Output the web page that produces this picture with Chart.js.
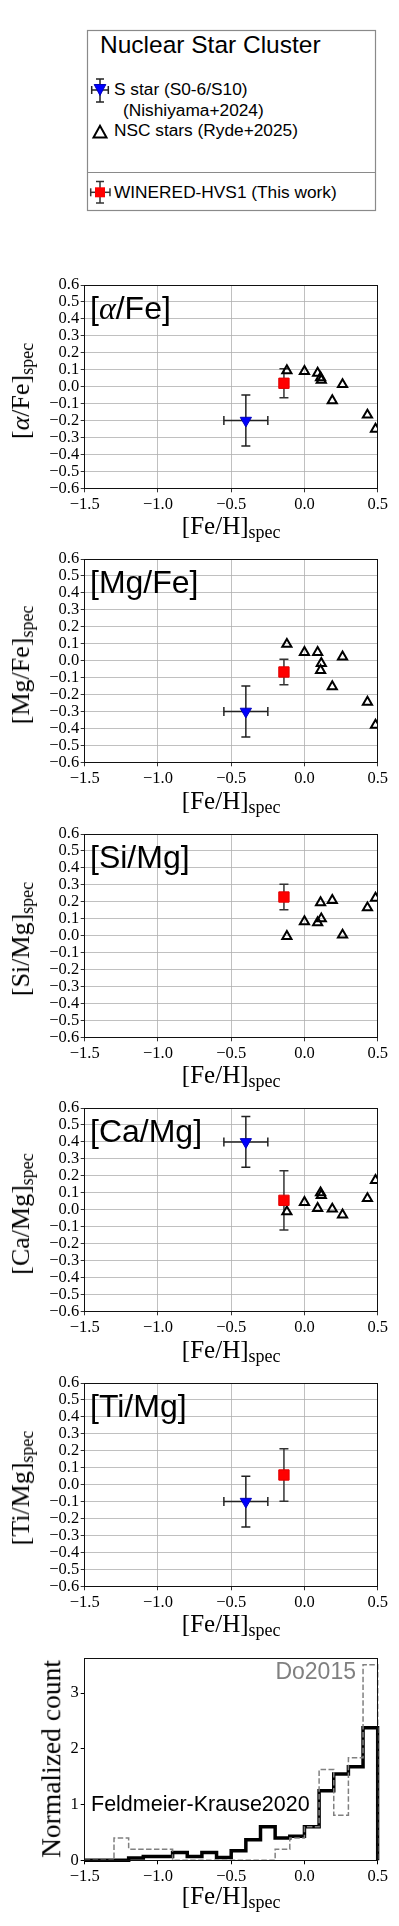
<!DOCTYPE html>
<html><head><meta charset="utf-8">
<script src="https://cdn.jsdelivr.net/npm/chart.js@4.4.0/dist/chart.umd.min.js"></script>
<style>
html,body{margin:0;padding:0;background:#fff;}
body{position:relative;width:399px;height:1926px;overflow:hidden;}
.abs{position:absolute;white-space:nowrap;color:#000;}
.sans{font-family:'Liberation Sans',Arial,sans-serif;}
.serif{font-family:'Liberation Serif','Times New Roman',serif;}
canvas{position:absolute;left:0;}
.sub{font-size:18px;vertical-align:-4px;line-height:0;}
.mi{font-family:'Liberation Serif',serif;font-style:italic;}
</style></head><body>

<svg class="abs" style="left:0;top:0" width="399" height="220">
  <rect x="87.5" y="30.5" width="288" height="180" fill="none" stroke="#8a8a8a" stroke-width="1.2"/>
  <line x1="87.5" y1="172.5" x2="375.5" y2="172.5" stroke="#8a8a8a" stroke-width="1.2"/>
  <g stroke="#222" stroke-width="1.5">
    <line x1="100" y1="79" x2="100" y2="102"/><line x1="96" y1="79" x2="104" y2="79"/><line x1="96" y1="102" x2="104" y2="102"/>
    <line x1="91.7" y1="90" x2="108.3" y2="90"/><line x1="91.7" y1="86" x2="91.7" y2="94"/><line x1="108.3" y1="86" x2="108.3" y2="94"/>
  </g>
  <polygon points="94.2,84.5 105.8,84.5 100,95.5" fill="#0000ff" stroke="#0000bb" stroke-width="1"/>
  <polygon points="93.5,137.5 106.5,137.5 100,125.8" fill="none" stroke="#000" stroke-width="2"/>
  <g stroke="#333" stroke-width="1.5">
    <line x1="100" y1="181.5" x2="100" y2="203"/><line x1="96" y1="181.5" x2="104" y2="181.5"/><line x1="96" y1="203" x2="104" y2="203"/>
    <line x1="90.7" y1="192.3" x2="110" y2="192.3"/><line x1="90.7" y1="188.3" x2="90.7" y2="196.3"/><line x1="110" y1="188.3" x2="110" y2="196.3"/>
  </g>
  <rect x="95" y="187.3" width="10" height="10" fill="#ff0000"/>
</svg>
<div class="abs sans" style="left:100px;top:33px;font-size:24.5px;line-height:24.5px;">Nuclear Star Cluster</div>
<div class="abs sans" style="left:114px;top:81.3px;font-size:17.3px;line-height:17.3px;">S star (S0-6/S10)</div>
<div class="abs sans" style="left:123px;top:102px;font-size:17.3px;line-height:17.3px;">(Nishiyama+2024)</div>
<div class="abs sans" style="left:114px;top:122px;font-size:17.3px;line-height:17.3px;">NSC stars (Ryde+2025)</div>
<div class="abs sans" style="left:114px;top:184.3px;font-size:17.3px;line-height:17.3px;">WINERED-HVS1 (This work)</div>

<script>
// ---------------- data ----------------
const panelNames = ['[α/Fe]', '[Mg/Fe]', '[Si/Mg]', '[Ca/Mg]', '[Ti/Mg]'];

// NSC stars (Ryde+2025): shared [Fe/H]
const nscFeH     = [-0.12, 0.00, 0.09, 0.11, 0.115, 0.19, 0.26, 0.43, 0.485];
const nscAlphaFe = [0.095, 0.090, 0.080, 0.054, 0.038, -0.082, 0.013, -0.167, -0.250];
const nscMgFe    = [0.097, 0.049, 0.049, -0.057, -0.016, -0.153, 0.022, -0.244, -0.380];
const nscSiMg    = [-0.004, 0.083, 0.077, 0.195, 0.100, 0.208, 0.004, 0.165, 0.222];
const nscCaMg    = [-0.012, 0.043, 0.008, 0.100, 0.085, 0.004, -0.031, 0.066, 0.173];
const nscTiMg    = null;

// S star (S0-6/S10) (Nishiyama+2024)
const sstarFeH    = -0.40;
const sstarFeHErr = 0.15;
const sstarVals   = [-0.20, -0.30, null, 0.40, -0.10];
const sstarErrs   = [0.15, 0.15, null, 0.15, 0.15];

// WINERED-HVS1 (This work)
const hvsFeH  = -0.14;
const hvsVals = [0.020, -0.067, 0.228, 0.055, 0.057];
const hvsErrs = [0.085, 0.075, 0.075, 0.175, 0.155];

// tick steps
const fehTickStep = 0.5;
const abundTickStep = 0.1;

// histogram: bin left edges, right edge, normalized counts
const histBinLeft = [-1.5, -1.4, -1.3, -1.2, -1.1, -1.0, -0.9, -0.8, -0.7, -0.6,
                     -0.5, -0.4, -0.3, -0.2, -0.1, 0.0, 0.1, 0.2, 0.3, 0.4];
const histRightEdge = 0.5;
const feldmeierCounts = [0, 0, 0, 0.04, 0.07, 0.07, 0.14, 0.07, 0.14, 0.05,
                         0.17, 0.37, 0.60, 0.40, 0.43, 0.60, 1.25, 1.55, 1.68, 2.38];
const do2015Counts    = [0, 0, 0.40, 0.20, 0.20, 0.20, 0, 0, 0, 0,
                         0, 0, 0, 0.20, 0.40, 0.60, 1.63, 0.81, 1.84, 3.51];

// ---------------- layout ----------------
const nscSets = [nscAlphaFe, nscMgFe, nscSiMg, nscCaMg, nscTiMg];
const chartTops = [285, 559.3, 833.6, 1108.3, 1382.6];
const panelH = 203.3;
const histTop = 1657.7, histH = 202.3;
const canvasH = 274;
const padTop = 20, yAxisW = 84.7, padRight = 21.3;
const chartLeft = yAxisW, chartRight = 399 - padRight;
const chartCX = (chartLeft + chartRight) / 2;
const tickFont = 16.5;

Chart.defaults.font.family = "'Liberation Serif', serif";
Chart.defaults.color = '#000';

function fmt1(v) {
  if (Math.abs(v) < 1e-9) v = 0;
  return v.toFixed(1).replace('-', '\u2212');
}
function alignPx(p) { return Math.round(p - 0.5) + 0.5; }

const framePlugin = {
  id: 'frame',
  afterDraw(chart) {
    const a = chart.chartArea, ctx = chart.ctx;
    ctx.save();
    ctx.strokeStyle = '#111';
    ctx.lineWidth = 1;
    const l = alignPx(a.left), r = alignPx(a.right), t = alignPx(a.top), b = alignPx(a.bottom);
    ctx.strokeRect(l, t, r - l, b - t);
    ctx.restore();
  }
};

const errorBarPlugin = {
  id: 'errbars',
  beforeDatasetsDraw(chart) {
    const ctx = chart.ctx, xs = chart.scales.x, ys = chart.scales.y, a = chart.chartArea;
    ctx.save();
    ctx.beginPath(); ctx.rect(a.left, a.top, a.right - a.left, a.bottom - a.top); ctx.clip();
    chart.data.datasets.forEach(ds => {
      if (!ds.errY && !ds.errX) return;
      ctx.strokeStyle = ds.errColor || '#222';
      ctx.lineWidth = 1.5;
      ds.data.forEach((p, j) => {
        const x = xs.getPixelForValue(p.x), y = ys.getPixelForValue(p.y);
        const cap = 4.5;
        ctx.beginPath();
        if (ds.errY) {
          const y1 = ys.getPixelForValue(p.y + ds.errY[j]), y2 = ys.getPixelForValue(p.y - ds.errY[j]);
          ctx.moveTo(x, y1); ctx.lineTo(x, y2);
          ctx.moveTo(x - cap, y1); ctx.lineTo(x + cap, y1);
          ctx.moveTo(x - cap, y2); ctx.lineTo(x + cap, y2);
        }
        if (ds.errX) {
          const x1 = xs.getPixelForValue(p.x - ds.errX[j]), x2 = xs.getPixelForValue(p.x + ds.errX[j]);
          ctx.moveTo(x1, y); ctx.lineTo(x2, y);
          ctx.moveTo(x1, y - cap); ctx.lineTo(x1, y + cap);
          ctx.moveTo(x2, y - cap); ctx.lineTo(x2, y + cap);
        }
        ctx.stroke();
      });
    });
    ctx.restore();
  }
};

function xScale(xAxisH) {
  return {
    type: 'linear', min: -1.5, max: 0.5,
    afterFit: s => { s.height = xAxisH; },
    ticks: { stepSize: fehTickStep, font: { size: tickFont }, color: '#000', padding: 2,
             maxRotation: 0, autoSkip: false, includeBounds: false, callback: v => fmt1(v) },
    grid: { color: '#b0b0b0', lineWidth: 0.8, tickColor: '#000', tickLength: 4 },
    border: { color: '#000', width: 1 }
  };
}

function addCanvas(top) {
  const c = document.createElement('canvas');
  c.width = 399; c.height = canvasH;
  c.style.top = top + 'px';
  c.style.width = '399px'; c.style.height = canvasH + 'px';
  document.body.appendChild(c);
  return c;
}
function addDiv(cls, style, html) {
  const d = document.createElement('div');
  d.className = 'abs ' + cls;
  d.setAttribute('style', style);
  d.innerHTML = html;
  document.body.appendChild(d);
  return d;
}
function richName(s) { return s.replace('α', '<span class="mi">α</span>'); }

// ---------------- scatter panels ----------------
panelNames.forEach((name, k) => {
  const top = chartTops[k];
  const canvas = addCanvas(top - padTop);
  const datasets = [];
  datasets.push({
    label: 'WINERED-HVS1 (This work)', order: 0,
    data: [{ x: hvsFeH, y: hvsVals[k] }],
    errY: [hvsErrs[k]], errColor: '#333',
    pointStyle: 'rect', pointRadius: 7.3,
    pointBackgroundColor: '#ff0000', pointBorderColor: '#e00000', pointBorderWidth: 1
  });
  if (sstarVals[k] !== null) {
    datasets.push({
      label: 'S star (S0-6/S10) (Nishiyama+2024)', order: 1,
      data: [{ x: sstarFeH, y: sstarVals[k] }],
      errY: [sstarErrs[k]], errX: [sstarFeHErr], errColor: '#222',
      pointStyle: 'triangle', pointRotation: 180, pointRadius: 6.5,
      pointBackgroundColor: '#0000ff', pointBorderColor: '#0000bb', pointBorderWidth: 1
    });
  }
  if (nscSets[k]) {
    datasets.push({
      label: 'NSC stars (Ryde+2025)', order: 2, clip: 0,
      data: nscFeH.map((x, i) => ({ x: x, y: nscSets[k][i] })),
      pointStyle: 'triangle', pointRadius: 5.3,
      pointBackgroundColor: 'rgba(0,0,0,0)', pointBorderColor: '#000', pointBorderWidth: 2
    });
  }
  new Chart(canvas, {
    type: 'scatter',
    data: { datasets: datasets },
    options: {
      responsive: false, animation: false, devicePixelRatio: 1, events: [],
      layout: { padding: { top: padTop, right: padRight, bottom: 0, left: 0 } },
      plugins: { legend: { display: false }, tooltip: { enabled: false } },
      scales: {
        x: xScale(canvasH - padTop - panelH),
        y: {
          type: 'linear', min: -0.6, max: 0.6,
          afterFit: s => { s.width = yAxisW; },
          ticks: { stepSize: abundTickStep, font: { size: tickFont }, color: '#000', padding: 1.5,
                   autoSkip: false, includeBounds: false, callback: v => fmt1(v) },
          grid: { color: '#b0b0b0', lineWidth: 0.8, tickColor: '#000', tickLength: 4 },
          border: { color: '#000', width: 1 }
        }
      }
    },
    plugins: [errorBarPlugin, framePlugin]
  });
  const bottom = top + panelH;
  addDiv('sans', `left:90px;top:${top + 7}px;font-size:32px;line-height:32px;`, richName(name));
  addDiv('serif', `left:21px;top:${top + panelH / 2 + 4}px;font-size:26px;line-height:26px;transform:translate(-50%,-50%) rotate(-90deg);`,
         richName(name) + '<span class="sub">spec</span>');
  addDiv('serif', `left:${chartCX}px;top:${bottom + 25}px;font-size:25px;line-height:25px;transform:translateX(-50%);`,
         '[Fe/H]<span class="sub">spec</span>');
});

// ---------------- histogram ----------------
function stepPoints(counts) {
  const pts = histBinLeft.map((x, i) => ({ x: x, y: counts[i] }));
  pts.push({ x: histRightEdge, y: counts[counts.length - 1] });
  pts.push({ x: histRightEdge, y: 0 });
  return pts;
}
const hc = addCanvas(histTop - padTop);
new Chart(hc, {
  type: 'line',
  data: {
    datasets: [
      { label: 'Do2015', order: 0, data: stepPoints(do2015Counts), stepped: 'before',
        borderColor: '#808080', borderWidth: 1.5, borderDash: [5.5, 2.4], pointRadius: 0, fill: false, clip: 2 },
      { label: 'Feldmeier-Krause2020', order: 1, data: stepPoints(feldmeierCounts), stepped: 'before',
        borderColor: '#000', borderWidth: 3.5, pointRadius: 0, fill: false, clip: 2 }
    ]
  },
  options: {
    responsive: false, animation: false, devicePixelRatio: 1, events: [],
    layout: { padding: { top: padTop, right: padRight, bottom: 0, left: 0 } },
    plugins: { legend: { display: false }, tooltip: { enabled: false } },
    scales: {
      x: Object.assign(xScale(canvasH - padTop - histH), {
        grid: { drawOnChartArea: false, tickColor: '#000', tickLength: 4 } }),
      y: {
        type: 'linear', min: 0, max: 3.63,
        afterFit: s => { s.width = yAxisW; },
        ticks: { stepSize: 1, font: { size: tickFont }, color: '#000', padding: 2,
                 autoSkip: false, includeBounds: false, callback: v => String(v) },
        grid: { drawOnChartArea: false, tickColor: '#000', tickLength: 4 },
        border: { color: '#000', width: 1 }
      }
    }
  },
  plugins: [framePlugin]
});
addDiv('sans', `right:43px;top:1660px;font-size:23px;line-height:23px;color:#808080;`, 'Do2015');
addDiv('sans', `left:91px;top:1794px;font-size:21.5px;line-height:21.5px;`, 'Feldmeier-Krause2020');
addDiv('serif', `left:51px;top:${histTop + histH / 2}px;font-size:27.5px;line-height:27.5px;transform:translate(-50%,-50%) rotate(-90deg);`,
       'Normalized count');
addDiv('serif', `left:${chartCX}px;top:${histTop + histH + 23}px;font-size:25px;line-height:25px;transform:translateX(-50%);`,
       '[Fe/H]<span class="sub">spec</span>');
</script>
</body></html>
